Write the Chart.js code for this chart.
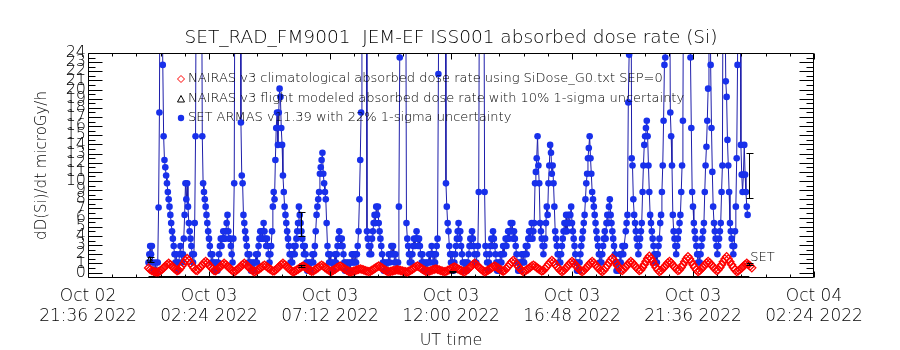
<!DOCTYPE html>
<html>
<head>
<meta charset="utf-8">
<title>SET_RAD_FM9001 JEM-EF ISS001 absorbed dose rate (Si)</title>
<script src="https://cdn.jsdelivr.net/npm/chart.js@4.4.1/dist/chart.umd.min.js"></script>
<style>
  html, body { margin: 0; padding: 0; background: #fff; }
  #chart { display: block; }
</style>
</head>
<body>
<canvas id="chart" width="900" height="350"></canvas>
<script>
// time axis: minutes since 2022-10-03 00:00 UT
const redStep = 4;   // NAIRAS climatological, one value every 4 min
const setStep = 2;   // SET ARMAS, one value every 2 min

// NAIRAS v3 climatological dose rate (one row per hour)
const nairasClim = [
  0.5,0.33,0.2,0.12,0.07,0.05,0.08,0.19,0.34,0.51,0.69,0.87,1.02,0.87,0.69,
  0.51,0.34,0.19,0.26,0.49,0.75,1.03,1.31,1.53,1.31,1.03,0.75,0.49,0.26,0.21,
  0.4,0.6,0.82,1.04,1.22,1.04,0.82,0.6,0.4,0.21,0.19,0.34,0.51,0.69,0.87,
  1.02,0.87,0.69,0.51,0.34,0.19,0.08,0.19,0.34,0.51,0.69,0.87,1.02,0.87,0.69,
  0.51,0.34,0.19,0.08,0.16,0.28,0.41,0.55,0.7,0.81,0.7,0.55,0.41,0.28,0.16,
  0.19,0.34,0.51,0.69,0.87,1.02,0.87,0.69,0.51,0.34,0.19,0.08,0.14,0.25,0.36,
  0.49,0.61,0.71,0.61,0.49,0.36,0.25,0.14,0.16,0.28,0.41,0.55,0.7,0.81,0.7,
  0.55,0.41,0.28,0.16,0.14,0.25,0.36,0.49,0.61,0.71,0.61,0.49,0.36,0.25,0.14,
  0.07,0.1,0.16,0.21,0.28,0.35,0.4,0.35,0.28,0.21,0.16,0.1,0.14,0.25,0.36,
  0.49,0.61,0.71,0.61,0.49,0.36,0.25,0.14,0.09,0.13,0.17,0.22,0.26,0.3,0.26,
  0.22,0.17,0.13,0.09,0.06,0.14,0.25,0.36,0.49,0.61,0.71,0.61,0.49,0.36,0.25,
  0.14,0.1,0.16,0.21,0.28,0.35,0.4,0.35,0.28,0.21,0.16,0.1,0.13,0.22,0.31,
  0.41,0.52,0.6,0.52,0.41,0.31,0.22,0.13,0.08,0.19,0.34,0.51,0.69,0.87,1.02,
  0.87,0.69,0.51,0.34,0.19,0.08,0.14,0.25,0.36,0.49,0.61,0.71,0.61,0.49,0.36,
  0.25,0.14,0.23,0.43,0.65,0.9,1.14,1.33,1.14,0.9,0.65,0.43,0.23,0.09,0.16,
  0.28,0.41,0.55,0.7,0.81,0.7,0.55,0.41,0.28,0.16,0.23,0.43,0.65,0.9,1.14,
  1.33,1.14,0.9,0.65,0.43,0.23,0.09,0.21,0.4,0.6,0.82,1.04,1.22,1.04,0.82,
  0.6,0.4,0.21,0.09,0.21,0.4,0.6,0.82,1.04,1.22,1.04,0.82,0.6,0.4,0.21,
  0.09,0.26,0.51,0.77,1.06,1.35,1.58,1.35,1.06,0.77,0.51,0.26,0.21,0.4,0.6,
  0.82,1.04,1.22,1.04,0.82,0.6,0.4,0.21,0.29,0.57,0.87,1.2,1.53,1.79,1.53,
  1.2,0.87,0.57,0.29,0.1,0.21,0.4,0.6,0.82,1.04,1.22,1.04,0.82,0.6,0.4,
  0.21,0.29,0.56,0.84,1.17,1.49,1.74,1.49,1.17,0.84,0.56,0.29,0.1,0.21,0.4,
  0.6,0.82,1.04,1.22,1.04,0.82,0.6,0.4,0.21,0.29,0.56,0.84,1.17,1.49,1.74,
  1.49,1.17,0.84,0.56,0.29,0.1,0.19,0.34,0.51,0.69,0.87,1.02,0.87,0.69,0.51
];

// SET ARMAS dose rate (one row per hour); 40 = off scale
const setArmas = [
  1.1,2.0,2.9,2.0,2.9,1.1,0.2,0.2,1.1,0.2,0.2,1.1,7.1,17.5,40,40,40,22.7,14.9,12.3,11.5,10.6,9.75,8.8,8.0,7.2,6.3,5.4,4.5,3.7,
  2.9,2.0,1.1,2.0,1.1,0.2,1.1,2.0,2.9,2.0,1.1,2.0,3.7,6.3,9.75,8.0,9.75,7.2,5.4,4.5,3.7,2.9,2.0,1.1,2.0,5.4,14.9,40,40,40,
  40,40,40,40,14.9,9.75,8.8,8.0,7.2,6.3,5.4,4.5,3.7,2.9,2.0,1.1,2.0,1.1,0.2,1.1,0.2,1.1,0.2,1.1,2.0,2.9,3.7,2.9,3.7,4.5,
  3.7,3.7,4.5,5.4,6.3,4.5,3.7,3.7,2.9,2.0,1.1,3.7,9.75,40,40,40,40,40,40,40,16.4,10.6,9.75,6.3,5.4,4.5,3.7,2.9,2.0,1.1,
  2.0,1.1,0.2,1.1,0.2,1.1,0.2,1.1,2.0,1.1,2.0,2.9,3.7,4.5,3.7,4.5,3.7,5.4,4.5,3.7,2.9,3.7,2.9,2.0,1.1,2.0,2.9,4.5,7.2,8.8,
  8.0,12.3,15.8,17.5,13.95,17.5,20.1,19.2,15.8,13.95,10.6,8.8,7.2,6.3,5.4,4.5,3.7,2.9,2.0,1.1,2.0,1.1,2.0,2.9,2.0,2.9,3.7,4.5,5.4,7.2,
  6.3,5.4,4.5,3.7,2.9,2.0,2.9,2.0,1.1,0.2,1.1,0.2,1.1,0.2,1.1,2.0,1.1,2.0,2.9,4.5,6.3,7.2,8.0,8.8,10.8,11.5,12.3,13.1,10.8,9.75,
  8.8,8.0,5.4,2.9,2.0,1.1,2.0,1.1,0.2,1.1,0.2,1.1,2.0,1.1,2.0,2.9,3.7,4.5,3.7,2.9,3.7,2.9,2.0,1.1,0.2,1.1,0.2,1.1,0.2,1.1,
  0.2,1.1,2.0,1.1,2.0,1.1,2.0,1.1,2.0,2.9,4.5,8.0,12.3,17.5,40,40,40,40,40,40,4.5,3.7,2.9,2.0,2.9,2.0,3.7,4.5,5.4,6.3,
  5.4,7.2,6.3,7.2,5.4,4.5,3.7,2.9,2.0,1.1,0.2,1.1,0.2,1.1,0.2,1.1,2.0,1.1,2.0,2.9,2.0,2.9,2.0,1.1,2.0,1.1,0.2,1.1,7.2,23.5,
  40,40,40,40,40,40,40,5.4,3.7,2.9,2.0,1.1,2.0,1.1,2.0,2.9,3.7,2.9,3.7,4.5,3.7,2.9,3.7,2.9,2.0,1.1,2.0,1.1,0.2,1.1,
  0.2,1.1,0.2,1.1,2.0,1.1,2.0,2.9,2.0,1.1,2.0,1.1,2.0,2.9,3.7,21.7,40,40,40,40,40,40,40,40,9.75,7.2,5.4,4.5,2.9,2.0,
  1.1,2.0,1.1,0.2,1.1,2.0,2.9,3.7,4.5,5.4,3.7,4.5,2.9,2.0,1.1,0.2,1.1,0.2,1.1,0.2,1.1,2.0,2.9,3.7,2.9,4.5,3.7,2.9,2.0,1.1,
  1.1,2.0,2.9,8.8,40,40,40,40,40,40,8.8,2.9,2.0,1.1,0.2,1.1,2.0,2.9,3.7,2.9,4.5,3.7,2.9,2.0,1.1,0.2,1.1,0.2,1.1,2.0,
  1.1,2.0,2.9,2.0,2.9,3.7,2.9,3.7,4.5,3.7,4.5,5.4,4.5,5.4,3.7,4.5,3.7,2.9,2.0,1.1,0.2,1.1,0.2,1.1,2.0,1.1,2.0,1.1,2.0,2.9,
  2.0,2.9,3.7,4.5,3.7,4.5,5.4,3.7,4.5,5.4,9.75,11.0,12.5,14.9,11.7,9.75,5.4,4.5,3.7,2.9,2.0,2.9,3.7,5.4,7.2,6.3,9.75,11.7,13.95,13.1,
  10.8,11.7,9.75,7.2,4.5,3.7,2.9,2.0,1.1,2.0,1.1,2.0,2.9,3.7,4.5,5.4,4.5,6.3,4.5,5.4,6.3,5.4,6.3,7.2,5.4,4.5,3.7,2.9,2.0,1.1,
  0.2,1.1,0.2,1.1,2.0,2.9,3.7,4.5,5.4,6.3,8.0,9.75,10.8,12.5,13.6,14.9,12.5,10.8,8.8,8.0,7.2,6.3,5.4,4.5,3.7,2.9,2.0,1.1,2.0,1.1,
  2.0,2.9,3.7,4.5,3.7,5.4,6.3,5.4,7.2,8.0,6.3,5.4,4.5,3.7,2.9,2.0,1.1,0.2,1.1,0.2,1.1,2.0,1.1,2.0,2.9,2.0,2.9,2.9,4.5,5.4,
  6.3,18.6,23.8,40,40,12.5,11.7,8.0,6.3,5.4,4.5,3.7,2.9,2.0,2.9,3.7,4.5,5.4,8.8,11.7,13.95,14.9,15.8,16.6,14.9,11.7,8.8,6.3,5.4,4.5,
  3.7,2.9,2.0,1.1,2.0,1.1,2.0,2.9,3.7,5.4,6.3,8.8,11.7,16.6,22.7,23.5,40,40,40,40,40,17.5,14.9,11.7,6.3,4.5,3.7,2.9,2.0,2.9,
  3.7,4.5,5.4,6.3,8.8,11.7,16.6,40,40,40,40,40,40,40,40,23.5,15.8,8.8,7.2,5.4,4.5,3.7,2.9,2.0,1.1,2.0,1.1,2.0,2.9,3.7,
  4.5,5.4,8.8,11.7,13.75,16.6,20.1,40,40,22.7,15.8,11.0,7.2,5.4,4.5,3.7,2.9,2.0,2.9,3.7,4.5,5.4,8.8,11.7,40,40,40,20.9,19.2,14.5,
  11.7,8.8,5.4,4.5,3.7,2.9,2.0,2.9,4.5,7.2,12.5,22.7,40,40,40,13.95,10.7,8.8,10.7,13.95,10.7,8.8,7.2,6.3
];

// NAIRAS v3 flight modeled points with 10% 1-sigma bars
const flightTimes = [3, 362, 722, 1430];
const flightValues = [1.42, 0.71, 0.1, 0.93];
const flightSigma = [0.25, 0.1, 0.08, 0.15];
// flight modeled trace along the floor of the plot
const flightBandTimes = [0, 1430];
const flightBandValues = [-0.55, -0.55];

// SET ARMAS 22% 1-sigma bars
const setErrTimes = [362, 1430];
const setErrValues = [5.3, 10.6];
const setErrSigma = [1.35, 2.45];

const xTickMinutes = [-144, 144, 432, 720, 1008, 1296, 1584];
const xTickLabels = [
  ['Oct 02', '21:36 2022'], ['Oct 03', '02:24 2022'], ['Oct 03', '07:12 2022'],
  ['Oct 03', '12:00 2022'], ['Oct 03', '16:48 2022'], ['Oct 03', '21:36 2022'],
  ['Oct 04', '02:24 2022']
];
const yTickValues = [0,1,2,3,4,5,6,7,8,9,10,11,12,13,14,15,16,17,18,19,20,21,22,23,24];

const titleText = 'SET_RAD_FM9001  JEM-EF ISS001 absorbed dose rate (Si)';

const RED = 'rgb(255,0,0)';
const BLUE_PT = 'rgb(24,48,235)';
const BLUE_LN = 'rgb(30,30,170)';
const FONT = '"DejaVu Sans", sans-serif';
const W = 200; // thin strokes like the original plot font

Chart.defaults.font.family = FONT;
Chart.defaults.font.weight = W;
Chart.defaults.color = '#000';

// frame, inward ticks, title, legend, error bars
const decor = {
  id: 'decor',
  afterDatasetsDraw(chart) {
    const {ctx, scales: {x, y}} = chart;
    ctx.save();
    ctx.strokeStyle = '#000';
    ctx.lineWidth = 1;
    const bars = [[flightTimes, flightValues, flightSigma], [setErrTimes, setErrValues, setErrSigma]];
    for (const [ts, vs, ss] of bars) {
      ts.forEach((t, i) => {
        const px = Math.round(x.getPixelForValue(t)) + 0.5;
        const top = Math.round(y.getPixelForValue(vs[i] + ss[i])) + 0.5;
        const bot = Math.round(y.getPixelForValue(vs[i] - ss[i])) + 0.5;
        ctx.beginPath();
        ctx.moveTo(px, top); ctx.lineTo(px, bot);
        ctx.moveTo(px - 3, top); ctx.lineTo(px + 4, top);
        ctx.moveTo(px - 3, bot); ctx.lineTo(px + 4, bot);
        ctx.stroke();
      });
    }
    ctx.fillStyle = '#000';
    ctx.font = W + ' 13px ' + FONT;
    ctx.textBaseline = 'middle';
    ctx.textAlign = 'left';
    const lastT = setErrTimes[setErrTimes.length - 1];
    ctx.fillText('SET', x.getPixelForValue(lastT) + 1, y.getPixelForValue(1.6));
    ctx.restore();
  },
  afterDraw(chart) {
    const {ctx, chartArea: a, scales: {x, y}} = chart;
    ctx.save();
    ctx.strokeStyle = '#000';
    ctx.lineWidth = 1;
    ctx.beginPath();
    const L = a.left + 0.5, R = a.right - 0.5, T = a.top + 0.5, B = a.bottom - 0.5;
    ctx.moveTo(L, T); ctx.lineTo(R, T); ctx.lineTo(R, B); ctx.lineTo(L, B); ctx.closePath();
    // y ticks on both sides
    yTickValues.forEach(v => {
      const py = Math.round(y.getPixelForValue(v)) + 0.5;
      ctx.moveTo(L, py); ctx.lineTo(L + 14, py);
      ctx.moveTo(R, py); ctx.lineTo(R - 14, py);
      if (v < 24) {
        const ph = Math.round(y.getPixelForValue(v + 0.5)) + 0.5;
        ctx.moveTo(L, ph); ctx.lineTo(L + 7, ph);
        ctx.moveTo(R, ph); ctx.lineTo(R - 7, ph);
      }
    });
    // x ticks top and bottom, 5 minor intervals per major
    for (let i = 0; i < xTickMinutes.length; i++) {
      const px = Math.round(x.getPixelForValue(xTickMinutes[i])) + 0.5;
      ctx.moveTo(px, B); ctx.lineTo(px, B - 6);
      ctx.moveTo(px, T); ctx.lineTo(px, T + 6);
      if (i < xTickMinutes.length - 1) {
        const step = (xTickMinutes[i + 1] - xTickMinutes[i]) / 5;
        for (let k = 1; k < 5; k++) {
          const pm = Math.round(x.getPixelForValue(xTickMinutes[i] + k * step)) + 0.5;
          ctx.moveTo(pm, B); ctx.lineTo(pm, B - 3);
          ctx.moveTo(pm, T); ctx.lineTo(pm, T + 3);
        }
      }
    }
    ctx.stroke();

    // title
    ctx.fillStyle = '#000';
    ctx.font = W + ' 18.5px ' + FONT;
    ctx.textAlign = 'center';
    ctx.textBaseline = 'middle';
    ctx.fillText(titleText, 451, 38);

    // legend inside the plot
    ctx.font = W + ' 13px ' + FONT;
    ctx.textAlign = 'left';
    const lx = a.left + 93;
    const rows = [a.top + 26, a.top + 46, a.top + 65];
    const ds = chart.data.datasets;
    // diamond
    ctx.strokeStyle = RED;
    ctx.beginPath();
    ctx.moveTo(lx, rows[0] - 3.5); ctx.lineTo(lx + 3.5, rows[0]); ctx.lineTo(lx, rows[0] + 3.5); ctx.lineTo(lx - 3.5, rows[0]); ctx.closePath();
    ctx.stroke();
    // triangle
    ctx.strokeStyle = '#000';
    ctx.beginPath();
    ctx.moveTo(lx, rows[1] - 3.5); ctx.lineTo(lx + 3.5, rows[1] + 3); ctx.lineTo(lx - 3.5, rows[1] + 3); ctx.closePath();
    ctx.stroke();
    // dot
    ctx.fillStyle = BLUE_PT;
    ctx.beginPath();
    ctx.arc(lx, rows[2], 3.2, 0, Math.PI * 2);
    ctx.fill();
    ctx.fillStyle = '#000';
    ctx.fillText(ds[0].label, lx + 7, rows[0]);
    ctx.fillText(ds[1].label, lx + 7, rows[1]);
    ctx.fillText(ds[3].label, lx + 7, rows[2]);
    ctx.restore();
  }
};

const ctx = document.getElementById('chart').getContext('2d');
const chart = new Chart(ctx, {
  type: 'scatter',
  data: {
    datasets: [
      {
        label: 'NAIRAS v3 climatological absorbed dose rate using SiDose_G0.txt SEP=0',
        data: nairasClim.map((v, i) => ({x: i * redStep, y: v})),
        showLine: false,
        pointStyle: 'rectRot',
        pointRadius: 4,
        pointBorderWidth: 1.3,
        pointBorderColor: RED,
        pointBackgroundColor: 'rgba(255,255,255,0)'
      },
      {
        label: 'NAIRAS v3 flight modeled absorbed dose rate with 10% 1-sigma uncertainty',
        data: flightTimes.map((t, i) => ({x: t, y: flightValues[i]})),
        showLine: false,
        pointStyle: 'triangle',
        pointRadius: 3,
        pointBorderWidth: 1,
        pointBorderColor: '#000',
        pointBackgroundColor: 'rgba(255,255,255,0)'
      },
      {
        label: 'flight band',
        data: flightBandTimes.map((t, i) => ({x: t, y: flightBandValues[i]})),
        showLine: true,
        borderColor: '#000',
        borderWidth: 3,
        pointRadius: 0
      },
      {
        label: 'SET ARMAS v11.39 with 22% 1-sigma uncertainty',
        data: setArmas.map((v, i) => ({x: i * setStep, y: v})),
        showLine: true,
        borderColor: BLUE_LN,
        borderWidth: 1,
        pointRadius: 3.3,
        pointBorderWidth: 0,
        pointBackgroundColor: BLUE_PT
      }
    ]
  },
  options: {
    responsive: false,
    animation: false,
    devicePixelRatio: 1,
    layout: { padding: { top: 53, right: 86, bottom: 0, left: 0 } },
    plugins: {
      legend: { display: false },
      tooltip: { enabled: false },
      title: { display: false }
    },
    scales: {
      x: {
        type: 'linear',
        min: -144,
        max: 1584,
        afterBuildTicks: s => { s.ticks = xTickMinutes.map(v => ({value: v})); },
        afterFit: s => { s.height = 72; s.paddingLeft = 0; s.paddingRight = 0; },
        grid: { display: false, drawTicks: false },
        border: { display: false },
        ticks: {
          autoSkip: false,
          maxRotation: 0,
          padding: 8,
          font: { size: 17, weight: W },
          color: '#000',
          callback: (v, i) => xTickLabels[i]
        },
        title: {
          display: true,
          text: 'UT time',
          font: { size: 16, weight: W },
          color: '#000',
          padding: { top: 4, bottom: 0 }
        }
      },
      y: {
        type: 'linear',
        min: -0.6,
        max: 24,
        afterBuildTicks: s => { s.ticks = yTickValues.map(v => ({value: v})); },
        afterFit: s => { s.width = 88; s.paddingTop = 0; s.paddingBottom = 0; },
        grid: { display: false, drawTicks: false },
        border: { display: false },
        ticks: {
          autoSkip: false,
          padding: 2,
          font: { size: 16, weight: W },
          color: '#000'
        },
        title: {
          display: true,
          text: 'dD(Si)/dt microGy/h',
          font: { size: 15, weight: W },
          color: '#000',
          padding: { top: 33, bottom: 0 }
        }
      }
    }
  },
  plugins: [decor]
});
</script>
</body>
</html>
